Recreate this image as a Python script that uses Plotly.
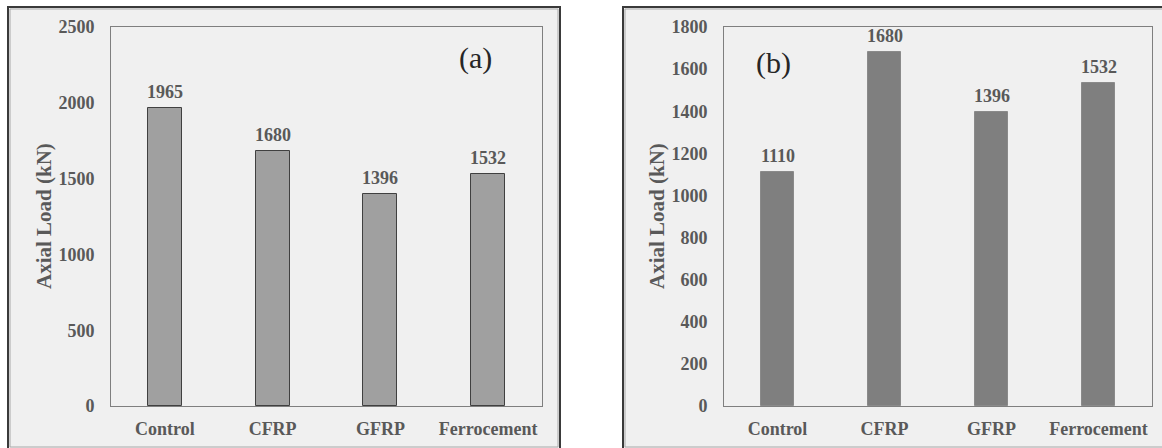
import plotly.graph_objects as go

# Data
categories = ["Control", "CFRP", "GFRP", "Ferrocement"]
load_a = [1965, 1680, 1396, 1532]
load_b = [1110, 1680, 1396, 1532]
yticks_a = [0, 500, 1000, 1500, 2000, 2500]
yticks_b = [0, 200, 400, 600, 800, 1000, 1200, 1400, 1600, 1800]

W, H = 1162, 448
FONT = "Liberation Serif"
TXT = "#595959"


def px(x):
    return x / W


def py(y):
    return 1 - y / H


fig = go.Figure()

fig.add_trace(go.Bar(
    x=categories, y=load_a, xaxis="x", yaxis="y", width=0.316,
    marker=dict(color="#a0a0a0", line=dict(color="#404040", width=1)),
    showlegend=False, hoverinfo="x+y",
))
fig.add_trace(go.Bar(
    x=categories, y=load_b, xaxis="x2", yaxis="y2", width=0.316,
    marker=dict(color="#7f7f7f", line=dict(color="#8a8a8a", width=1)),
    showlegend=False, hoverinfo="x+y",
))

tickfont = dict(family=FONT, size=18, color=TXT, weight="bold")
common_x = dict(showgrid=False, zeroline=False, showline=True, mirror=True,
                linecolor="#7f7f7f", linewidth=1, tickfont=tickfont, automargin=False,
                ticks="", ticklabelstandoff=6, range=[-0.5, 3.5])
common_y = dict(showgrid=False, zeroline=False, showline=True, mirror=True,
                linecolor="#7f7f7f", linewidth=1, tickfont=tickfont, automargin=False,
                ticks="", ticklabelstandoff=12)

fig.update_layout(
    width=W, height=H,
    margin=dict(l=0, r=0, t=0, b=0, autoexpand=False),
    paper_bgcolor="white",
    plot_bgcolor="#f0f0f0",
    bargap=0,
    xaxis=dict(domain=[px(111), px(542)], anchor="y", **common_x),
    yaxis=dict(domain=[py(406), py(27)], anchor="x", range=[0, 2500],
               tickvals=yticks_a, **common_y),
    xaxis2=dict(domain=[px(724), px(1152)], anchor="y2", **common_x),
    yaxis2=dict(domain=[py(406), py(27)], anchor="x2", range=[0, 1800],
                tickvals=yticks_b, **common_y),
)

# Panel frames
shapes = []
for x0, x1 in [(8, 560), (623, 1166)]:
    shapes.append(dict(type="rect", xref="paper", yref="paper",
                       x0=px(x0), x1=px(x1), y0=py(450), y1=py(7),
                       fillcolor="#f0f0f0", line=dict(color="#3a3a3a", width=2),
                       layer="below"))
    shapes.append(dict(type="rect", xref="paper", yref="paper",
                       x0=px(x0 + 2), x1=px(x1 - 2), y0=py(447), y1=py(9),
                       fillcolor="rgba(0,0,0,0)", line=dict(color="#a8a8a8", width=1),
                       layer="below"))
fig.update_layout(shapes=shapes)

annotations = []
# Value labels above bars
for xa, ya, vals in [("x", "y", load_a), ("x2", "y2", load_b)]:
    for c, v in zip(categories, vals):
        annotations.append(dict(x=c, y=v, xref=xa, yref=ya, text=str(v),
                                showarrow=False, yshift=16,
                                xanchor="center", yanchor="middle",
                                font=dict(family=FONT, size=18, color=TXT, weight="bold")))
# Axis titles
for xc in [44, 657]:
    annotations.append(dict(x=px(xc), y=py(216), xref="paper", yref="paper",
                            text="Axial Load (kN)", textangle=-90, showarrow=False,
                            xanchor="center", yanchor="middle",
                            font=dict(family=FONT, size=21, color=TXT, weight="bold")))
# Panel tags
annotations.append(dict(x=px(475), y=py(58), xref="paper", yref="paper", text="(a)",
                        showarrow=False, xanchor="center", yanchor="middle",
                        font=dict(family=FONT, size=30, color="#262626")))
annotations.append(dict(x=px(773), y=py(63), xref="paper", yref="paper", text="(b)",
                        showarrow=False, xanchor="center", yanchor="middle",
                        font=dict(family=FONT, size=30, color="#262626")))
fig.update_layout(annotations=annotations)

fig.write_html("out.html")
